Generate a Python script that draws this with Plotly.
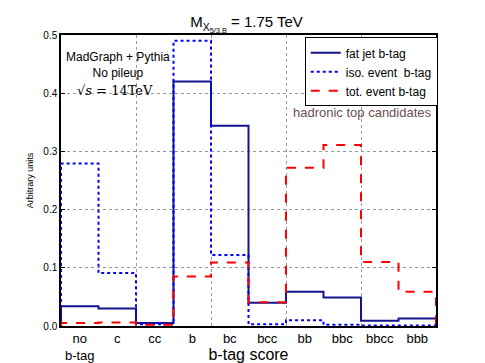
import plotly.graph_objects as go

# b-tag categories (one bin each) and the three normalised distributions
categories = ["no<br>b-tag", "c", "cc", "b", "bc", "bcc", "bb", "bbc", "bbcc", "bbb"]
fat_jet = [0.034, 0.030, 0.005, 0.420, 0.344, 0.040, 0.059, 0.049, 0.009, 0.013]
iso_event = [0.279, 0.091, 0.003, 0.490, 0.122, 0.003, 0.010, 0.002, 0.001, 0.001]
tot_event = [0.005, 0.006, 0.002, 0.085, 0.109, 0.041, 0.272, 0.311, 0.110, 0.059]

series = [
    ("fat jet b-tag", fat_jet, "#14148c", "solid"),
    ("iso. event  b-tag", iso_event, "#0000ff", "dot"),
    ("tot. event b-tag", tot_event, "#ff0000", "dash"),
]

font = "Liberation Sans, Arial, sans-serif"


def step_xy(vals):
    # matplotlib-like histtype='step' outline
    n = len(vals)
    x = [0] + list(range(n + 1)) + [n]
    y = [0] + list(vals) + [vals[-1], 0]
    return x, y


fig = go.Figure()

for name, vals, color, dash in series:
    x, y = step_xy(vals)
    fig.add_trace(go.Scatter(x=x, y=y, mode="lines", line_shape="hv", name=name,
                             line=dict(color=color, width=2, dash=dash),
                             hoverinfo="skip"))

fig.add_annotation(text="MadGraph + Pythia<br>No pileup", xref="paper", yref="paper",
                   x=0.153, y=0.898, xanchor="center", yanchor="middle",
                   showarrow=False, align="center",
                   font=dict(family=font, size=12, color="black"))
fig.add_annotation(text="√<i>s</i> = 14TeV", xref="paper", yref="paper",
                   x=0.145, y=0.808, xanchor="center", yanchor="middle", showarrow=False,
                   font=dict(family="DejaVu Serif, serif", size=13, color="black"))
fig.add_annotation(text="hadronic top candidates", xref="paper", yref="paper",
                   x=0.803, y=0.735, xanchor="center", yanchor="middle", showarrow=False,
                   font=dict(family=font, size=13, color="#6a5050"))

# page body adds an 8px margin, so the figure is made 8px smaller
fig.update_layout(
    width=477, height=355,
    margin=dict(l=53, r=49, t=27, b=37),
    paper_bgcolor="white", plot_bgcolor="white",
    title=dict(text="M<sub>X<sub>5/3,B</sub></sub> = 1.75 TeV", x=0.5, xanchor="center",
               y=0.96, yanchor="middle", font=dict(family=font, size=15, color="black")),
    legend=dict(x=0.65, y=0.992, xanchor="left", yanchor="top",
                bordercolor="black", borderwidth=1, bgcolor="white",
                font=dict(family=font, size=12, color="black"),
                tracegroupgap=0, itemwidth=30),
    font=dict(family=font, color="black"),
)

fig.update_xaxes(range=[0, 10], tickmode="array", automargin=False,
                 tickvals=[i + 0.5 for i in range(len(categories))],
                 ticktext=categories, showgrid=False, zeroline=False,
                 showline=True, linecolor="black", linewidth=1.5, mirror=True,
                 ticks="", tickfont=dict(size=13),
                 minor=dict(tick0=0, dtick=2, showgrid=True, griddash="dot",
                            gridcolor="#999999", gridwidth=1),
                 title=dict(text="b-tag score", font=dict(size=16), standoff=0))

fig.update_yaxes(range=[0, 0.5], dtick=0.1, tickformat=".1f", automargin=False,
                 showgrid=True, griddash="dot", gridcolor="#999999", gridwidth=1,
                 zeroline=False, showline=True, linecolor="black", linewidth=1.5,
                 mirror="ticks", ticks="inside", ticklen=4, tickcolor="black",
                 tickfont=dict(size=10),
                 title=dict(text="Arbitrary units", font=dict(size=9), standoff=8))

fig.write_html("out.html")
